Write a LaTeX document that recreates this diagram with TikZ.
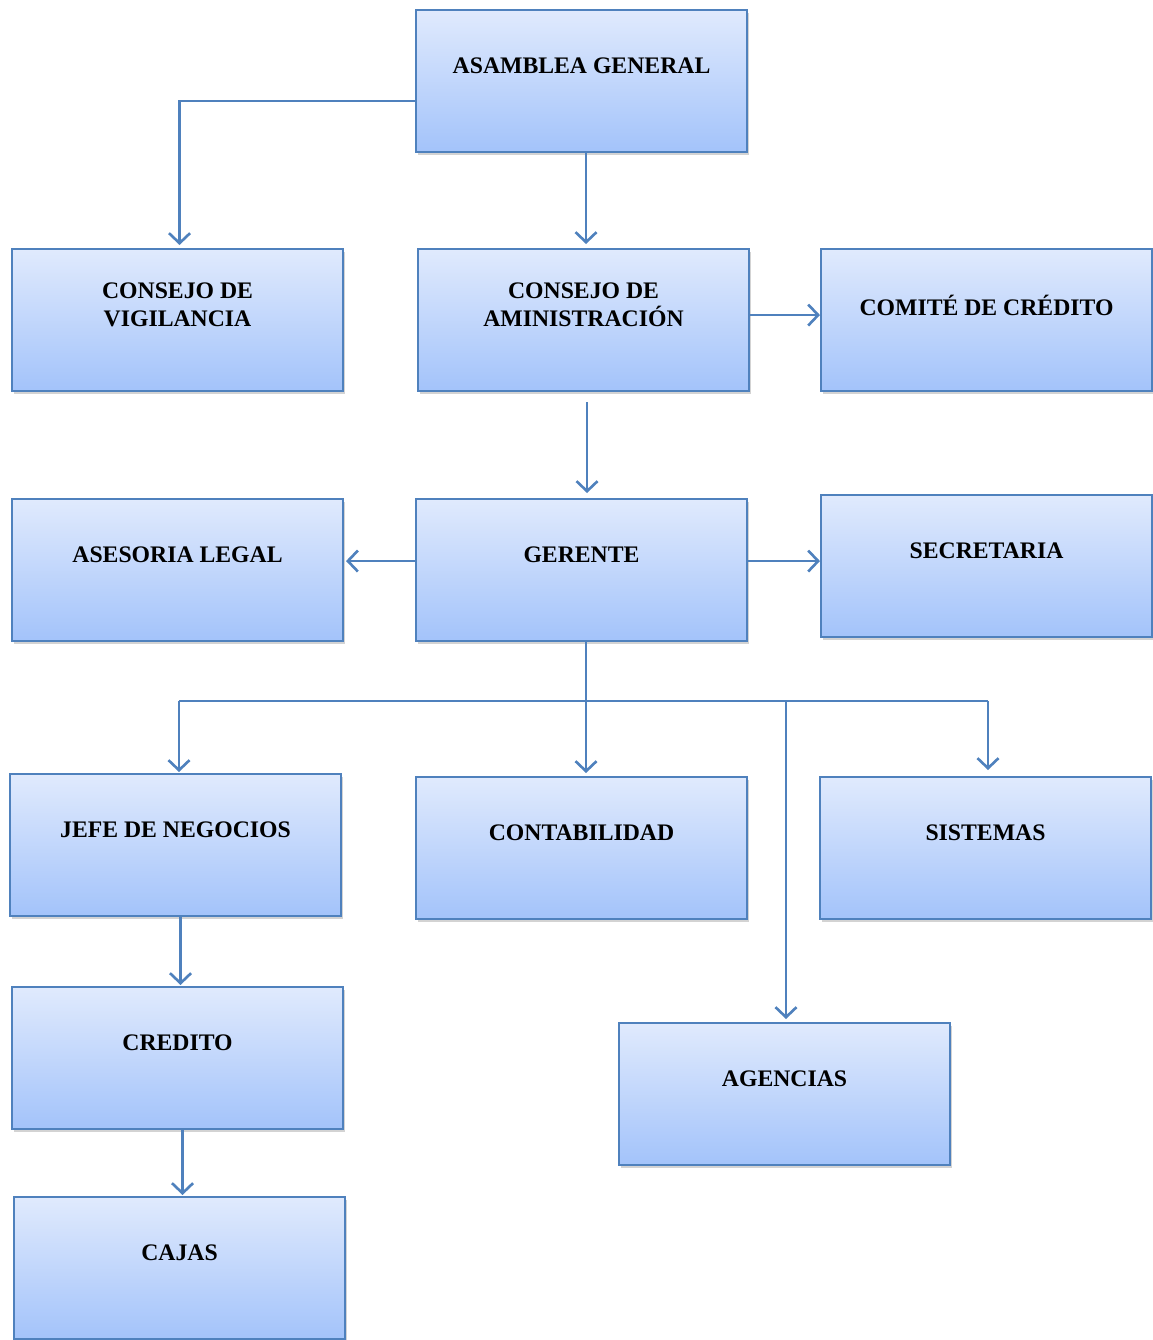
\documentclass[tikz,border=0pt]{standalone}
\usepackage{fontspec}
\setmainfont{Liberation Serif}
\usetikzlibrary{arrows.meta,shadows,calc}
\definecolor{boxtop}{RGB}{224,234,253}
\definecolor{boxbot}{RGB}{163,195,250}
\definecolor{edge}{RGB}{79,129,189}
\tikzset{
  orgbox/.style={draw=edge, line width=1.2pt, top color=boxtop, bottom color=boxbot,
    minimum width=6.62cm, minimum height=2.84cm, anchor=north west, inner sep=0pt,
    drop shadow={shadow xshift=1.2pt, shadow yshift=-1.6pt, opacity=0.35}},
  boxtext/.style={font=\fontsize{13.5}{16}\selectfont\bfseries, align=center, anchor=center, inner sep=0pt},
  link/.style={draw=edge, line width=1.5pt},
  conn/.style={link, -{Straight Barb[length=0.2cm, width=0.42cm, line width=1.5pt]}}
}
\begin{document}
\begin{tikzpicture}[x=0.02cm, y=-0.02cm]
\useasboundingbox (0,0) rectangle (1153,1340);
% boxes
\node[orgbox, label={[boxtext, yshift=-1.14cm]north:ASAMBLEA GENERAL}] (asam) at (415,9) {};
\node[orgbox, label={[boxtext, yshift=-1.14cm]north:{CONSEJO DE\\VIGILANCIA}}] (vig) at (11,248) {};
\node[orgbox, label={[boxtext, yshift=-1.14cm]north:{CONSEJO DE\\AMINISTRACIÓN}}] (adm) at (417,248) {};
\node[orgbox, label={[boxtext, yshift=-1.14cm]north:COMITÉ DE CRÉDITO}] (com) at (820,248) {};
\node[orgbox, label={[boxtext, yshift=-1.14cm]north:ASESORIA LEGAL}] (ase) at (11,498) {};
\node[orgbox, label={[boxtext, yshift=-1.14cm]north:GERENTE}] (ger) at (415,498) {};
\node[orgbox, label={[boxtext, yshift=-1.14cm]north:SECRETARIA}] (sec) at (820,494) {};
\node[orgbox, label={[boxtext, yshift=-1.14cm]north:JEFE DE NEGOCIOS}] (jefe) at (9,773) {};
\node[orgbox, label={[boxtext, yshift=-1.14cm]north:CONTABILIDAD}] (cont) at (415,776) {};
\node[orgbox, label={[boxtext, yshift=-1.14cm]north:SISTEMAS}] (sis) at (819,776) {};
\node[orgbox, label={[boxtext, yshift=-1.14cm]north:CREDITO}] (cred) at (11,986) {};
\node[orgbox, label={[boxtext, yshift=-1.14cm]north:AGENCIAS}] (age) at (618,1022) {};
\node[orgbox, label={[boxtext, yshift=-1.14cm]north:CAJAS}] (caj) at (13,1196) {};
% connectors
\draw[conn] ($(asam.west)+(0,20)$) -| ($(vig.north)+(2,-3)$);
\coordinate (c1) at ($(asam.south)+(4.5,0)$);
\draw[conn] (c1) -- ($(c1 |- adm.north)+(0,-4)$);
\draw[conn] ($(adm.east)+(0,-5)$) -- ($(com.west)+(0,-5)$);
\coordinate (c2) at ($(adm.south)+(3.5,10)$);
\draw[conn] (c2) -- ($(c2 |- ger.north)+(0,-5)$);
\draw[conn] ($(ger.west)+(0,-9)$) -- ($(ase.east)+(2,-9)$);
\draw[conn] ($(ger.east)+(0,-9)$) -- ($(sec.west)+(0,-5)$);
\coordinate (c3) at ($(ger.south)+(4.5,0)$);
\draw[conn] (c3) -- ($(c3 |- cont.north)+(0,-3)$);
\coordinate (busL) at (179,701);
\coordinate (busR) at (988,701);
\draw[link] (busL) -- (busR);
\draw[conn] (busL) -- ($(busL |- jefe.north)+(0,-1)$);
\draw[conn] (busR) -- ($(busR |- sis.north)+(0,-6)$);
\coordinate (c4) at (786,701);
\draw[conn] (c4) -- ($(c4 |- age.north)+(0,-3)$);
\coordinate (c5) at ($(jefe.south)+(5,0)$);
\draw[conn] (c5) -- ($(c5 |- cred.north)+(0,-1)$);
\coordinate (c6) at ($(cred.south)+(5,0)$);
\draw[conn] (c6) -- ($(c6 |- caj.north)+(0,-1)$);
\end{tikzpicture}
\end{document}
